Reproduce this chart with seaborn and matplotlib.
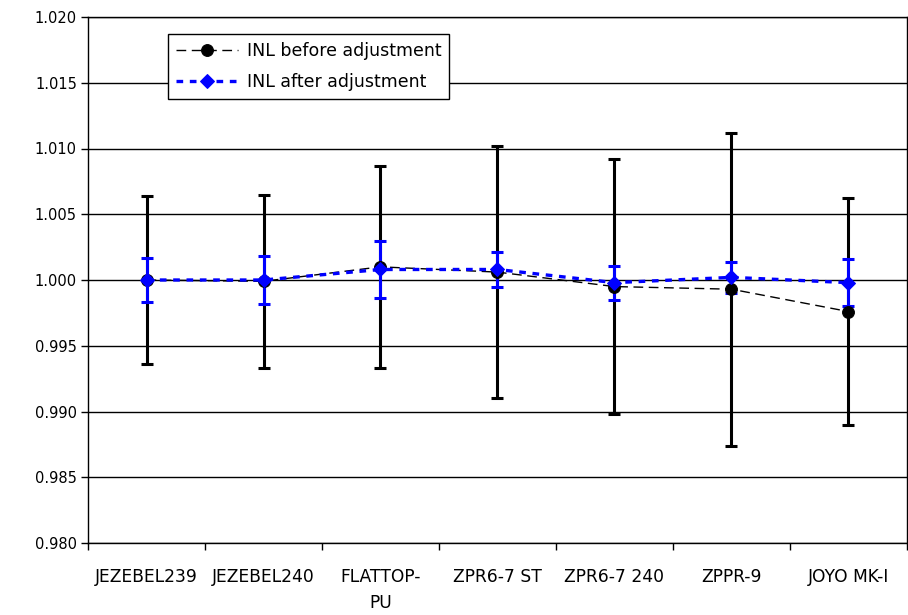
import matplotlib
matplotlib.use("Agg")
import matplotlib.pyplot as plt
import seaborn as sns
import pandas as pd
import numpy as np

categories = ["JEZEBEL239", "JEZEBEL240", "FLATTOP-\nPU", "ZPR6-7 ST",
              "ZPR6-7 240", "ZPPR-9", "JOYO MK-I"]
before = [1.0000, 0.9999, 1.0010, 1.0006, 0.9995, 0.9993, 0.9976]
before_err = [0.0064, 0.0066, 0.0077, 0.0096, 0.0097, 0.0119, 0.0086]
after = [1.0000, 1.0000, 1.0008, 1.0008, 0.9998, 1.0002, 0.9998]
after_err = [0.0017, 0.0018, 0.0022, 0.0013, 0.0013, 0.0012, 0.0018]
yticks = [0.980, 0.985, 0.990, 0.995, 1.000, 1.005, 1.010, 1.015, 1.020]

sns.set_style("white")
plt.rcParams['font.family'] = ['DejaVu Sans']
plt.rcParams['text.color'] = 'black'
plt.rcParams['xtick.color'] = 'black'
plt.rcParams['ytick.color'] = 'black'

fig = plt.figure(figsize=(9.08, 6.15), dpi=100)
ax = fig.add_axes([88/908, 1-543/615, (907-88)/908, (543-17)/615])

x = np.arange(len(categories))
df = pd.DataFrame({"x": np.concatenate([x, x]),
                   "y": before + after,
                   "series": ["INL before adjustment"]*len(x) + ["INL after adjustment"]*len(x)})

# grid lines
for yv in yticks:
    ax.axhline(yv, color="black", lw=1.0, zorder=0)

# error bars
ax.errorbar(x, before, yerr=before_err, fmt="none", ecolor="black",
            elinewidth=2.2, capsize=4, capthick=2.2, zorder=2)
ax.errorbar(x, after, yerr=after_err, fmt="none", ecolor="#0000FF",
            elinewidth=2.2, capsize=4, capthick=2.2, zorder=3)

sns.lineplot(data=df[df.series == "INL before adjustment"], x="x", y="y", ax=ax,
             color="black", lw=1.0, dashes=False, linestyle=(0, (7, 4)),
             marker="o", markersize=8.5, markeredgecolor="black",
             label="INL before adjustment", zorder=4)
sns.lineplot(data=df[df.series == "INL after adjustment"], x="x", y="y", ax=ax,
             color="#0000FF", lw=2.4, dashes=False, linestyle=(0, (2, 2)),
             marker="D", markersize=7.5, markeredgecolor="#0000FF",
             label="INL after adjustment", zorder=5)

ax.set_xlim(-0.5, len(categories) - 0.5)
ax.set_ylim(0.980, 1.020)
ax.set_yticks(yticks)
ax.set_yticklabels([f"{v:.3f}" for v in yticks], fontsize=10.5)
ax.set_xticks(x)
ax.set_xticklabels(categories, fontsize=12.3, linespacing=1.55)
ax.set_xticks(np.arange(len(categories) + 1) - 0.5, minor=True)
ax.tick_params(axis="x", which="major", length=0, pad=18)
ax.tick_params(axis="x", which="minor", length=5, width=1, color="black", direction="out", bottom=True)
ax.tick_params(axis="y", which="major", length=5, width=1, color="black", direction="out", left=True, pad=3)
ax.set_xlabel("")
ax.set_ylabel("")
for s in ax.spines.values():
    s.set_color("black")
    s.set_linewidth(1.0)
    s.set_visible(True)

leg = ax.legend(loc="upper left", bbox_to_anchor=((168-88)/819, (543-34)/526),
                borderaxespad=0, frameon=True, fancybox=False, fontsize=12.5,
                handlelength=3.6, handletextpad=0.5, borderpad=0.45, labelspacing=0.75)
leg.get_frame().set_edgecolor("black")
leg.get_frame().set_linewidth(1.0)
leg.get_frame().set_alpha(1)

fig.savefig("out.png", dpi=100)
